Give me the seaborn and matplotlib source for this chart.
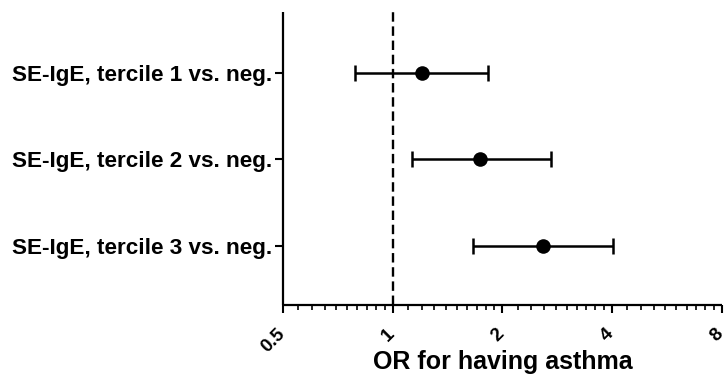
import matplotlib
matplotlib.use('Agg')
import matplotlib.pyplot as plt
import matplotlib.ticker as mticker
import matplotlib.transforms as mtransforms
import seaborn as sns
import pandas as pd
import numpy as np

# Odds ratios with 95% CI
labels = ['SE-IgE, tercile 1 vs. neg.', 'SE-IgE, tercile 2 vs. neg.', 'SE-IgE, tercile 3 vs. neg.']
odds_ratio = [1.20, 1.74, 2.59]
ci_low = [0.79, 1.13, 1.66]
ci_high = [1.83, 2.71, 4.03]
x_ticks = [0.5, 1, 2, 4, 8]
x_tick_labels = ['0.5', '1', '2', '4', '8']

df = pd.DataFrame({'label': labels, 'OR': odds_ratio, 'lo': ci_low, 'hi': ci_high})
df['ypos'] = range(len(df))

sns.set_style('ticks')
plt.rcParams['font.family'] = ['Liberation Sans', 'DejaVu Sans']
plt.rcParams['font.weight'] = 'bold'
plt.rcParams['text.color'] = 'black'
plt.rcParams['xtick.color'] = 'black'
plt.rcParams['ytick.color'] = 'black'
plt.rcParams['axes.labelcolor'] = 'black'

fig, ax = plt.subplots(figsize=(7.24, 3.74), dpi=100)
fig.subplots_adjust(left=0.391, right=0.997, top=0.968, bottom=0.1845)

ax.set_xscale('log', base=2)
ax.axvline(1, color='black', lw=1.7, ls=(0, (4, 2)), zorder=1)

ax.errorbar(df['OR'], df['ypos'],
            xerr=[df['OR'] - df['lo'], df['hi'] - df['OR']],
            fmt='none', ecolor='black', elinewidth=1.8, capsize=5.5, capthick=1.8, zorder=2)
sns.scatterplot(data=df, x='OR', y='ypos', color='black', s=110, edgecolor='black',
                linewidth=0, ax=ax, zorder=3)

ax.set_xlim(0.5, 8)
ax.set_ylim(2.69, -0.71)
ax.set_yticks(df['ypos'])
ax.set_yticklabels(df['label'], fontsize=16.2, fontweight='bold')

ax.xaxis.set_major_locator(mticker.FixedLocator(x_ticks))
ax.xaxis.set_major_formatter(mticker.FixedFormatter(x_tick_labels))
minor = []
for a in x_ticks[:-1]:
    minor += [a * (1 + k / 10) for k in range(1, 10)]
ax.xaxis.set_minor_locator(mticker.FixedLocator(minor))
ax.xaxis.set_minor_formatter(mticker.NullFormatter())

ax.tick_params(axis='both', which='major', length=6, width=1.5, color='black')
ax.tick_params(axis='x', which='minor', length=3.5, width=1.2, color='black')
ax.tick_params(axis='y', pad=2)
ax.tick_params(axis='x', pad=9)

offset = mtransforms.ScaledTranslation(-5 / 72, 0, fig.dpi_scale_trans)
for t in ax.get_xticklabels():
    t.set_rotation(45)
    t.set_ha('right')
    t.set_va('top')
    t.set_rotation_mode('anchor')
    t.set_fontsize(13.5)
    t.set_fontweight('bold')
    t.set_transform(t.get_transform() + offset)

ax.set_xlabel('OR for having asthma', fontsize=18, fontweight='bold')
ax.xaxis.set_label_coords(0.5, -0.152)
ax.set_ylabel('')
sns.despine(ax=ax)
for s in ['left', 'bottom']:
    ax.spines[s].set_linewidth(1.6)
    ax.spines[s].set_color('black')
    ax.spines[s].set_capstyle('butt')
for s in ax.spines.values():
    s.set_clip_on(False)

fig.savefig('out.png', dpi=100)
